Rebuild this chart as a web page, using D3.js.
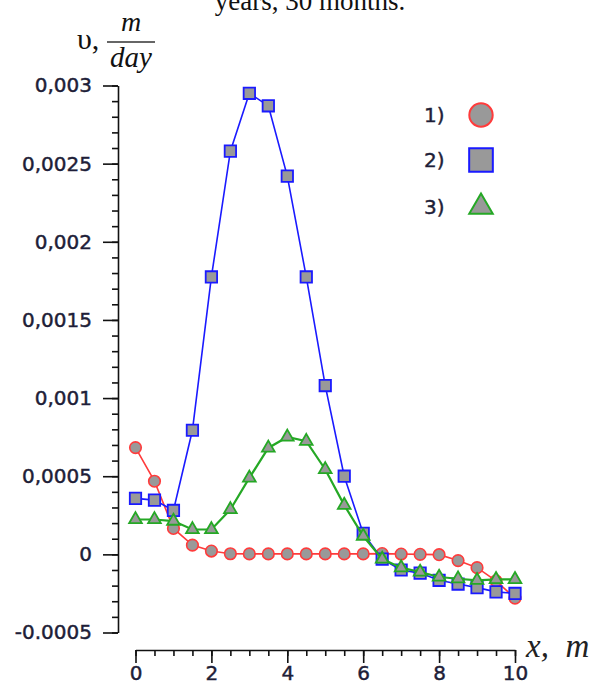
<!DOCTYPE html>
<html><head><meta charset="utf-8">
<script src="https://cdn.jsdelivr.net/npm/d3@7"></script>
<style>
body{margin:0;background:#fff;}
svg{display:block;}
</style></head>
<body>
<script>
const xs = [0,0.5,1,1.5,2,2.5,3,3.5,4,4.5,5,5.5,6,6.5,7,7.5,8,8.5,9,9.5,10];
const series1 = [0.000683,0.000468,0.000166,0.000059,0.000021,0.000004,0.000003,0.000003,0.000003,0.000003,0.000003,0.000003,0.000003,0.000005,0.000002,0.0,-0.000002,-0.00004,-0.000085,-0.00017,-0.00028];
const series2 = [0.000358,0.000347,0.000281,0.000794,0.001775,0.00258,0.00295,0.00287,0.00242,0.001775,0.00108,0.0005,0.000134,-0.00003,-0.0001,-0.00012,-0.000166,-0.00019,-0.000213,-0.00024,-0.00025];
const series3 = [0.000223,0.000223,0.000213,0.000159,0.000159,0.000287,0.000489,0.000681,0.000751,0.000724,0.000543,0.000315,0.000117,-0.00003,-0.000085,-0.000113,-0.000145,-0.000156,-0.000166,-0.00016,-0.00016];
const yTicks = [-0.0005,0,0.0005,0.001,0.0015,0.002,0.0025,0.003];
const yTickLabels = ["-0.0005","0","0,0005","0,001","0,0015","0,002","0,0025","0,003"];
const xTicks = [0,2,4,6,8,10];
const legendLabels = ["1)","2)","3)"];

const W=598,H=696;
const svg=d3.select("body").append("svg").attr("width",W).attr("height",H);
const x=d3.scaleLinear().domain([0,10]).range([135.5,515]);
const y=d3.scaleLinear().domain([-0.0005,0.003]).range([632.5,85.5]);
const tickFont="'DejaVu Sans', sans-serif";
const txtCol="#1e1e38";

// Title (cut off at top, as in the source)
svg.append("text").attr("x",310).attr("y",10).attr("text-anchor","middle")
  .attr("font-family","'Liberation Serif', serif").attr("font-size",27).attr("fill","#111")
  .text("years, 30 months.");

// Y axis
const yMinor=d3.range(-5,31).map(i=>i*0.0001);
const gyMin=svg.append("g").attr("transform","translate(118,0)")
  .call(d3.axisLeft(y).tickValues(yMinor).tickSize(6).tickFormat(""));
gyMin.select(".domain").remove();
const gy=svg.append("g").attr("transform","translate(118,0)")
  .call(d3.axisLeft(y).tickValues(yTicks).tickSizeInner(15).tickSizeOuter(0).tickPadding(11)
    .tickFormat(d=>yTickLabels[yTicks.indexOf(d)]));
gy.select(".domain").attr("stroke","#111").attr("stroke-width",1.6);

// X axis
const xMinor=d3.range(0,21).map(i=>i*0.5);
const gxMin=svg.append("g").attr("transform","translate(0,650)")
  .call(d3.axisBottom(x).tickValues(xMinor).tickSize(6).tickFormat(""));
gxMin.select(".domain").remove();
const gx=svg.append("g").attr("transform","translate(0,650)")
  .call(d3.axisBottom(x).tickValues(xTicks).tickSizeInner(13).tickSizeOuter(0).tickPadding(3)
    .tickFormat(d3.format("d")));
gx.select(".domain").attr("stroke","#111").attr("stroke-width",1.6);
svg.selectAll(".tick line").attr("stroke","#111").attr("stroke-width",1.6);
svg.selectAll(".tick text").attr("font-family",tickFont).attr("font-size",20).attr("fill",txtCol)
  .attr("stroke",txtCol).attr("stroke-width",0.45);

// Axis titles
const serif="'Liberation Serif', 'Times New Roman', serif";
svg.append("text").attr("x",77).attr("y",49).attr("font-family",serif).attr("font-size",30).attr("fill","#111").text("υ,");
svg.append("text").attr("x",131).attr("y",31).attr("text-anchor","middle").attr("font-family",serif).attr("font-style","italic").attr("font-size",28).attr("fill","#111").text("m");
svg.append("line").attr("x1",107).attr("x2",155).attr("y1",42).attr("y2",42).attr("stroke","#333").attr("stroke-width",1.5);
svg.append("text").attr("x",131).attr("y",67).attr("text-anchor","middle").attr("font-family",serif).attr("font-style","italic").attr("font-size",29).attr("fill","#111").text("day");
svg.append("text").attr("x",526).attr("y",657).attr("font-family",serif).attr("font-style","italic").attr("font-size",33).attr("fill","#222").attr("xml:space","preserve").text("x,  m");

// Series
const fillG="#999999";
const defs=[
  {data:series1,color:"#ff3b3b",lw:1.6,shape:d3.symbolCircle,size:105,sw:1.6},
  {data:series2,color:"#1a1aff",lw:1.6,shape:d3.symbolSquare,size:130,sw:1.8},
  {data:series3,color:"#25a825",lw:2.2,shape:d3.symbolTriangle,size:70,sw:1.8}
];
defs.forEach(s=>{
  const pts=xs.map((v,i)=>[v,s.data[i]]);
  svg.append("path").datum(pts).attr("fill","none").attr("stroke",s.color).attr("stroke-width",s.lw)
    .attr("d",d3.line().x(d=>x(d[0])).y(d=>y(d[1])));
  svg.append("g").selectAll("path").data(pts).join("path")
    .attr("transform",d=>`translate(${x(d[0])},${y(d[1])})`)
    .attr("d",d3.symbol().type(s.shape).size(s.size))
    .attr("fill",fillG).attr("stroke",s.color).attr("stroke-width",s.sw);
});

// Legend
const legY=[115,160,207];
const legSize=[430,560,240];
defs.forEach((s,i)=>{
  svg.append("text").attr("x",424).attr("y",legY[i]).attr("dy","0.36em")
    .attr("font-family",tickFont).attr("font-size",20).attr("fill",txtCol)
    .attr("stroke",txtCol).attr("stroke-width",0.45).text(legendLabels[i]);
  svg.append("path").attr("transform",`translate(481,${legY[i]})`)
    .attr("d",d3.symbol().type(s.shape).size(legSize[i]))
    .attr("fill",fillG).attr("stroke",s.color).attr("stroke-width",2);
});
</script>
</body></html>
